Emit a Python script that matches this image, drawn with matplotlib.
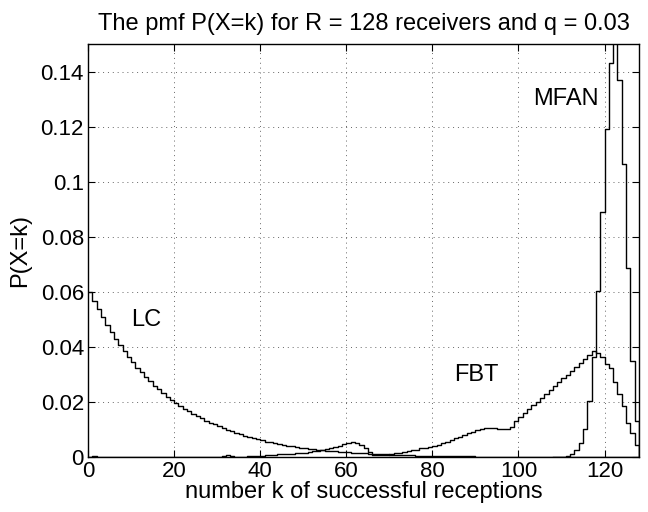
import numpy as np
import matplotlib
matplotlib.use("Agg")
import matplotlib.pyplot as plt

plt.rcParams['font.family'] = ['Liberation Sans', 'DejaVu Sans']

# pmf values, k = 0..128
k = np.arange(0, 129)

lc = [0.0600, 0.0568, 0.0537, 0.0508, 0.0480, 0.0454, 0.0430, 0.0406, 0.0384, 0.0364,
      0.0344, 0.0325, 0.0308, 0.0291, 0.0275, 0.0260, 0.0246, 0.0233, 0.0220, 0.0208,
      0.0197, 0.0186, 0.0176, 0.0167, 0.0158, 0.0149, 0.0141, 0.0133, 0.0126, 0.0119,
      0.0113, 0.0106, 0.0100, 0.0094, 0.0088, 0.0083, 0.0078, 0.0073, 0.0069, 0.0065,
      0.0061, 0.0057, 0.0054, 0.0051, 0.0048, 0.0045, 0.0042, 0.0040, 0.0037, 0.0035,
      0.0033, 0.0031, 0.0029, 0.0027, 0.0026, 0.0024, 0.0023, 0.0021, 0.0020, 0.0019,
      0.0018, 0.0017, 0.0016, 0.0015, 0.0014, 0.0013, 0.0012, 0.0011, 0.0011, 0.0010,
      0.0009, 0.0009, 0.0008, 0.0008, 0.0007, 0.0007, 0.0006, 0.0006, 0.0006, 0.0005,
      0.0005, 0.0005, 0.0004, 0.0004, 0.0004, 0.0004, 0.0003, 0.0003, 0.0003, 0.0003,
      0.0002, 0.0002, 0.0002, 0.0002, 0.0002, 0.0002, 0.0002, 0.0002, 0.0002, 0.0002,
      0.0001, 0.0001, 0.0001, 0.0001, 0.0001, 0.0001, 0.0001, 0.0001, 0.0001, 0.0001,
      0.0001, 0.0001, 0.0001, 0.0001, 0.0001, 0.0001, 0.0001, 0.0001, 0.0001, 0.0001,
      0.0001, 0.0001, 0.0001, 0.0001, 0.0001, 0.0001, 0.0001, 0.0001, 0.0]

fbt = [0.0, 0.0006, 0.0, 0.0, 0.0, 0.0, 0.0, 0.0, 0.0, 0.0,
       0.0, 0.0, 0.0, 0.0, 0.0, 0.0, 0.0, 0.0, 0.0, 0.0,
       0.0, 0.0, 0.0, 0.0, 0.0, 0.0, 0.0, 0.0, 0.0, 0.0,
       0.0002, 0.0006, 0.0007, 0.0006, 0.0002, 0.0001, 0.0002, 0.0003, 0.0004, 0.0005,
       0.0006, 0.0007, 0.0008, 0.0009, 0.0010, 0.0011, 0.0012, 0.0013, 0.0014, 0.0015,
       0.0017, 0.0019, 0.0021, 0.0024, 0.0027, 0.0029, 0.0033, 0.0037, 0.0042, 0.0047,
       0.0053, 0.0055, 0.0051, 0.0045, 0.0033, 0.0020, 0.0009, 0.0008, 0.0008, 0.0009,
       0.0012, 0.0015, 0.0017, 0.0019, 0.0022, 0.0025, 0.0028, 0.0032, 0.0035, 0.0038,
       0.0041, 0.0046, 0.0051, 0.0056, 0.0062, 0.0068, 0.0074, 0.0080, 0.0087, 0.0093,
       0.0099, 0.0103, 0.0105, 0.0106, 0.0105, 0.0103, 0.0101, 0.0103, 0.0110, 0.0130,
       0.0147, 0.0160, 0.0174, 0.0188, 0.0202, 0.0216, 0.0230, 0.0244, 0.0258, 0.0272,
       0.0286, 0.0300, 0.0314, 0.0328, 0.0342, 0.0356, 0.0372, 0.0385, 0.0378, 0.0365,
       0.0340, 0.0323, 0.0274, 0.0230, 0.0186, 0.0126, 0.0087, 0.0045, 0.0]

# MFAN is zero below k = 108
mfan_k = np.arange(108, 129)
mfan = [0.0, 0.0, 0.0002, 0.0005, 0.0012, 0.0025, 0.0052, 0.0103, 0.0205, 0.0365,
        0.0605, 0.0890, 0.1190, 0.1430, 0.1600, 0.1370, 0.1065, 0.0686, 0.0350, 0.0130,
        0.0]

xticks = [0, 20, 40, 60, 80, 100, 120]
yticks = [0, 0.02, 0.04, 0.06, 0.08, 0.1, 0.12, 0.14]
ytick_labels = ['0', '0.02', '0.04', '0.06', '0.08', '0.1', '0.12', '0.14']

fig = plt.figure(figsize=(6.48, 5.12), dpi=100)
ax = fig.add_axes([0.136, 0.107, 0.850, 0.807])

ax.step(k, lc, where='post', color='k', lw=1.0)
ax.step(k, fbt, where='post', color='k', lw=1.0)
ax.step(mfan_k, mfan, where='post', color='k', lw=1.0)

ax.set_xlim(0, 128)
ax.set_ylim(0, 0.15)
ax.set_xticks(xticks)
ax.set_xticklabels([str(t) for t in xticks])
ax.set_yticks(yticks)
ax.set_yticklabels(ytick_labels)
ax.tick_params(direction='in', length=5, width=0.8, top=True, right=True,
               labelsize=16, pad=3)
ax.grid(True, linestyle=(0, (1, 4)), color='0.4', lw=0.7)
for s in ax.spines.values():
    s.set_linewidth(1.0)

ax.text(10, 0.0498, 'LC', fontsize=17, va='center', ha='left')
ax.text(85, 0.030, 'FBT', fontsize=17, va='center', ha='left')
ax.text(103.3, 0.130, 'MFAN', fontsize=17, va='center', ha='left')

ax.set_title('The pmf P(X=k) for R = 128 receivers and q = 0.03', fontsize=17, pad=10)
ax.set_xlabel('number k of successful receptions', fontsize=17, labelpad=-1)
ax.set_ylabel('P(X=k)', fontsize=17, labelpad=7)

fig.savefig('out.png', dpi=100)
